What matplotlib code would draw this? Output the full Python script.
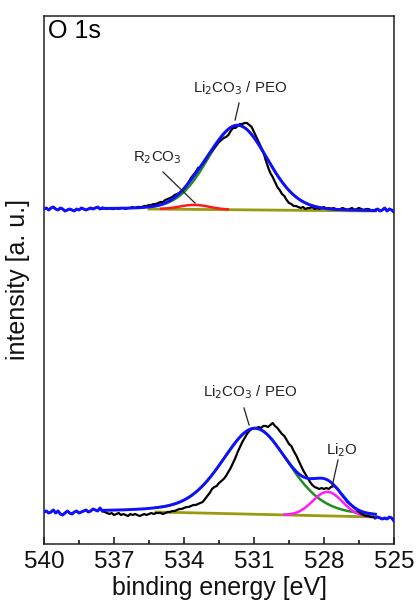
import numpy as np
import matplotlib
matplotlib.use("Agg")
import matplotlib.pyplot as plt

plt.rcParams['font.family'] = ['Liberation Sans', 'DejaVu Sans']

# ---------------- data ----------------
# binding energy grid of the measured spectra (eV), 540.0 -> 525.0 in 0.1 eV steps
energy = np.round(np.arange(540.0, 524.95, -0.1), 1)

# upper spectrum (arbitrary units, includes vertical offset)
top_counts = [
    335, 336, 334, 336, 337, 335, 334, 336, 335, 333, 334, 335, 334, 333, 335, 334, 336, 335, 334, 335,
    336, 335, 336, 337, 335, 336,
    336, 335, 336, 335, 335, 336, 335, 336, 336, 335, 336, 336, 337, 336, 337, 337,
    337, 338, 338, 339, 339, 340, 340, 341, 342, 342, 344, 345, 346,
    347, 349, 350, 351, 353, 355,
    358, 362, 366, 369, 372, 376, 377, 380, 383, 387,
    391, 393, 396, 399, 402, 404, 406, 407, 409, 413,
    416, 416, 418, 420, 420, 421, 421, 419, 417, 412,
    407, 402, 397, 392, 384, 377, 371, 367, 362, 357,
    354, 350, 348, 344, 341, 340, 338, 338, 337, 336,
    337, 335, 336, 336, 337, 335, 336, 335, 336, 337, 335, 336, 335, 336, 335, 334, 335, 336, 335, 334,
    335, 336, 334, 335, 336, 335, 334, 335, 335, 334, 333, 334, 335, 333, 334, 336, 333, 335, 334, 332,
]

# lower spectrum
bottom_counts = [
    32, 33, 31, 32, 34, 31, 33, 30, 29, 31, 33, 31, 30, 32, 33, 31, 32, 33, 34, 32,
    33, 35, 34, 33, 36, 33,
    32, 31, 30, 31, 29, 30, 31, 29, 30, 29, 28, 30, 29, 30, 29, 28, 29, 30, 29, 30, 31, 30, 31,
    31, 31, 30, 31, 32, 32,
    33, 33, 34, 35, 35, 36,
    37, 37, 38, 39, 39, 40, 41, 42, 45, 48,
    51, 55, 57, 58, 61, 63, 65, 68, 72, 76,
    81, 86, 92, 97, 102, 106, 110, 113, 115, 116,
    116, 117, 116, 118, 118, 117, 119, 121, 118, 116,
    113, 110, 108, 104, 100, 98, 93, 89, 84, 79,
    74, 70, 66, 62, 59, 57, 56, 55, 56, 55,
    56, 55, 57, 58, 57, 55, 51, 48, 45, 42,
    40, 38, 36, 34, 32, 30, 29, 28, 28, 27,
    27, 26, 27, 26, 25, 26, 25, 27, 26, 23,
]

# fit components
top_names = ["Li2CO3 / PEO", "R2CO3"]
top_centers = [531.7, 533.55]
top_heights = [84.5, 4.5]
top_fwhm = [3.0, 1.5]
top_eta = [0.1, 0.0]
top_colors = ["#1f8f1f", "#ff1a1a"]
top_bg_ends = [535.5, 525.8]
top_bg_levels = [335.0, 333.0]

bot_names = ["Li2CO3 / PEO", "Li2O"]
bot_centers = [530.95, 527.85]
bot_heights = [86.0, 24.0]
bot_fwhm = [3.4, 1.5]
bot_eta = [0.3, 0.0]
bot_colors = ["#1f8f1f", "#ff1aff"]
bot_bg_ends = [535.2, 525.8]
bot_bg_levels = [32.0, 27.0]

envelope_range = [537.5, 525.8]

xticks = [540, 537, 534, 531, 528, 525]


def pv(x, c, h, w, eta):
    s = w / 2.3548
    g = np.exp(-(x - c) ** 2 / (2 * s * s))
    l = 1.0 / (1.0 + ((x - c) / (w / 2)) ** 2)
    return h * ((1 - eta) * g + eta * l)


def background(x, ends, levels):
    return np.interp(-x, [-ends[0], -ends[1]], levels)


fig = plt.figure(figsize=(4.19, 6.12), dpi=100)
ax = fig.add_axes([44 / 419, 1 - 544 / 612, 350 / 419, 528 / 612])

E = np.array(energy)
fine = np.linspace(envelope_range[0], envelope_range[1], 600)

BLUE = "#1010ff"
OLIVE = "#9a9a10"

for counts, cen, hei, fw, et, cols, bge, bgl in [
    (top_counts, top_centers, top_heights, top_fwhm, top_eta, top_colors, top_bg_ends, top_bg_levels),
    (bottom_counts, bot_centers, bot_heights, bot_fwhm, bot_eta, bot_colors, bot_bg_ends, bot_bg_levels),
]:
    y = np.array(counts, dtype=float)
    bgx = np.linspace(bge[0], bge[1], 300)
    bgy = background(bgx, bge, bgl)
    ax.plot(bgx, bgy, color=OLIVE, lw=2.0, zorder=2)
    for c, h, w, e, col in zip(cen, hei, fw, et, cols):
        comp = pv(bgx, c, h, w, e)
        m = comp > 0.35
        ax.plot(bgx[m], bgy[m] + comp[m], color=col, lw=1.8, zorder=3)
    ax.plot(E, y, color="black", lw=1.6, zorder=4)
    env = background(fine, bge, bgl)
    for c, h, w, e in zip(cen, hei, fw, et):
        env = env + pv(fine, c, h, w, e)
    ax.plot(fine, env, color=BLUE, lw=2.1, zorder=5)
    left = E >= envelope_range[0] - 1e-9
    right = E <= envelope_range[1] + 1e-9
    ax.plot(E[left], y[left], color=BLUE, lw=2.1, zorder=5)
    ax.plot(E[right], y[right], color=BLUE, lw=2.1, zorder=5)

ax.set_xlim(540, 525)
ax.set_ylim(0, 528)
ax.set_xticks(xticks)
ax.set_xticks([538.5, 535.5, 532.5, 529.5, 526.5], minor=True)
ax.set_yticks([])
ax.tick_params(axis='x', which='major', direction='in', length=5, width=1.1,
               labelsize=17.5, pad=5, colors='#111111')
ax.tick_params(axis='x', which='minor', direction='in', length=2.8, width=1.1)
for sp in ax.spines.values():
    sp.set_linewidth(1.1)
    sp.set_color('#222222')

ax.set_xlabel("binding energy [eV]", fontsize=18, labelpad=2, color='#111111')
ax.set_ylabel("intensity [a. u.]", fontsize=18, labelpad=10, color='#111111')

ax.text(0.01, 0.995, "O 1s", transform=ax.transAxes, ha='left', va='top', fontsize=18)

ann_fs = 10.8
ax.text(531.6, 456, r"Li$_2$CO$_3$ / PEO", ha='center', va='center', fontsize=ann_fs, color='#222222')
ax.plot([531.64, 531.81], [441, 424], color='#222222', lw=0.9, zorder=6)
ax.text(535.16, 386, r"R$_2$CO$_3$", ha='center', va='center', fontsize=ann_fs, color='#222222')
ax.plot([534.9, 533.53], [372, 341], color='#222222', lw=0.9, zorder=6)
ax.text(531.17, 152, r"Li$_2$CO$_3$ / PEO", ha='center', va='center', fontsize=ann_fs, color='#222222')
ax.plot([531.43, 531.21], [136, 119], color='#222222', lw=0.9, zorder=6)
ax.text(527.23, 94, r"Li$_2$O", ha='center', va='center', fontsize=ann_fs, color='#222222')
ax.plot([527.4, 527.66], [84, 57], color='#222222', lw=0.9, zorder=6)

fig.savefig("out.png", dpi=100)
